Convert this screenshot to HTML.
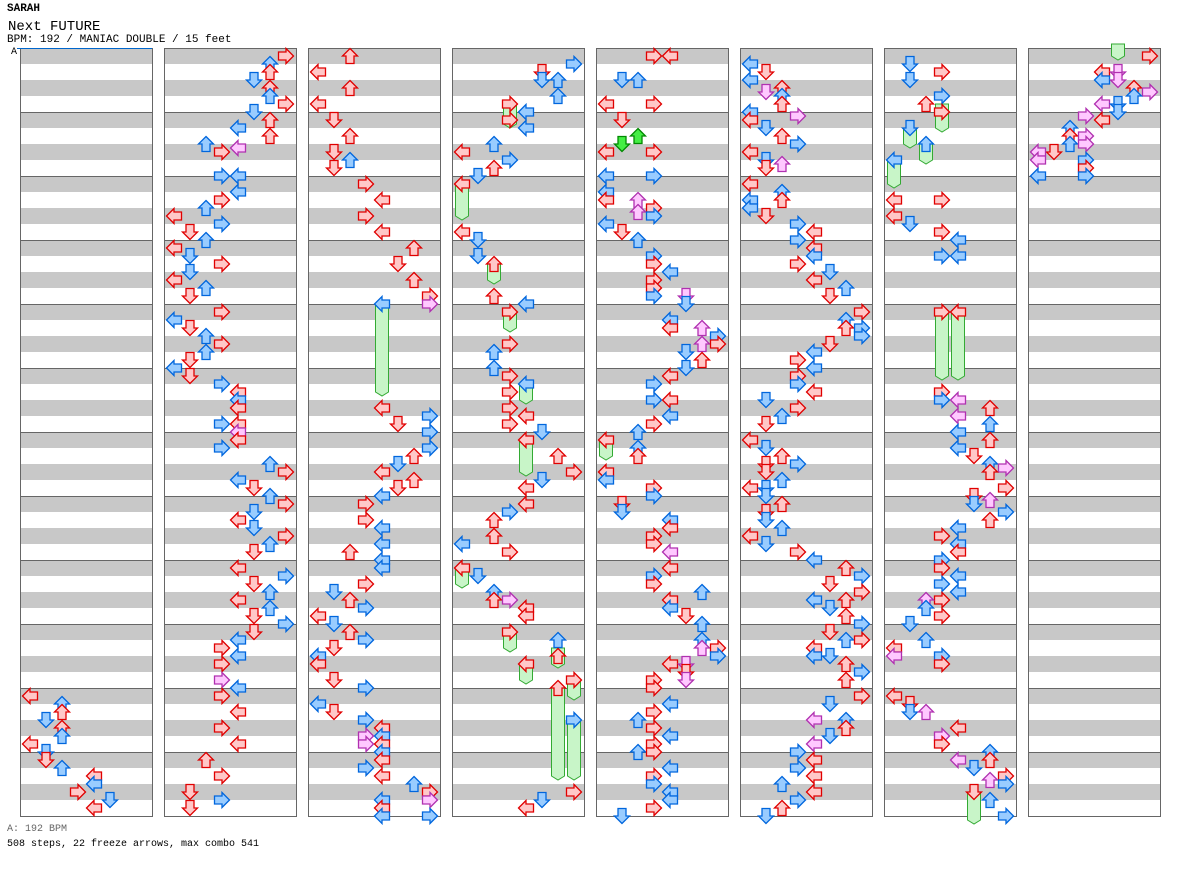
<!DOCTYPE html>
<html><head><meta charset="utf-8"><style>
body{margin:0;background:#fff;width:1184px;height:876px;overflow:hidden;font-family:"Liberation Mono",monospace;}
.t{position:absolute;white-space:nowrap;color:#000}
</style></head><body>
<div class="t" style="left:7px;top:3px;font-size:11px;font-weight:bold">SARAH</div>
<div class="t" style="left:8px;top:19px;font-size:14px">Next FUTURE</div>
<div class="t" style="left:7px;top:34px;font-size:11px">BPM: 192 / MANIAC DOUBLE / 15 feet</div>
<div class="t" style="left:11px;top:47px;font-size:10px">A</div>
<div class="t" style="left:7px;top:824px;font-size:10px;color:#666">A: 192 BPM</div>
<div class="t" style="left:7px;top:839px;font-size:10px">508 steps, 22 freeze arrows, max combo 541</div>
<svg id="s" width="1184" height="876" style="position:absolute;left:0;top:0"></svg>
<script>
var s=document.getElementById('s'),h='';
var cols=[20,164,308,452,596,740,884,1028];
cols.forEach(function(x){
 for(var m=0;m<12;m++){var y=48+m*64;
  h+='<rect x="'+x+'" y="'+y+'" width="132" height="16" fill="#c8c8c8"/><rect x="'+x+'" y="'+(y+32)+'" width="132" height="16" fill="#c8c8c8"/>';
  if(m>0)h+='<line x1="'+x+'" x2="'+(x+132)+'" y1="'+(y+.5)+'" y2="'+(y+.5)+'" stroke="#666"/>';}
 h+='<rect x="'+(x+.5)+'" y="48.5" width="132" height="768" fill="none" stroke="#666"/>';
});
h+='<line x1="17" x2="152" y1="48.5" y2="48.5" stroke="#06c"/>';
var F=[[2,4,304,396],[3,3,104,128],[3,0,184,220],[3,2,264,284],[3,3,312,332],[3,4,384,404],[3,4,440,476],[3,0,568,588],[3,3,632,652],[3,6,648,668],[3,4,664,684],[3,7,680,700],[3,6,688,780],[3,7,720,780],[4,0,440,460],[6,3,104,132],[6,1,128,148],[6,2,144,164],[6,0,160,188],[6,3,312,380],[6,4,312,380],[6,5,792,824],[7,5,44,60]];
F.forEach(function(f){var cx=cols[f[0]]+10+16*f[1];
 h+='<path d="M'+(cx-6.5)+','+f[2]+'V'+(f[3]-4)+'L'+cx+','+f[3]+'L'+(cx+6.5)+','+(f[3]-4)+'V'+f[2]+'Z" fill="#c8f5c8" stroke="#3a3"/>';});
var D=[
"0,696,r;2,704,b;2,712,r;1,720,b;2,728,r;2,736,b;0,744,r;1,752,b;1,760,r;2,768,b;4,776,r;4,784,b;3,792,r;5,800,b;4,808,r",
"7,56,r;6,64,b;6,72,r;5,80,b;6,88,r;6,96,b;7,104,r;5,112,b;6,120,r;4,128,b;6,136,r;2,144,b;4,148,p;3,152,r;3,176,b;4,176,b;4,192,b;3,200,r;2,208,b;0,216,r;3,224,b;1,232,r;2,240,b;0,248,r;1,256,b;3,264,r;1,272,b;0,280,r;2,288,b;1,296,r;3,312,r;0,320,b;1,328,r;2,336,b;3,344,r;2,352,b;1,360,r;0,368,b;1,376,r;3,384,b;4,392,r;4,400,b;4,408,r;3,424,b;4,424,r;4,432,p;4,440,r;3,448,b;6,464,b;7,472,r;4,480,b;5,488,r;6,496,b;7,504,r;5,512,b;4,520,r;5,528,b;7,536,r;6,544,b;5,552,r;4,568,r;7,576,b;5,584,r;6,592,b;4,600,r;6,608,b;5,616,r;7,624,b;5,632,r;4,640,b;3,648,r;4,656,b;3,664,r;3,680,p;4,688,b;3,696,r;4,712,r;3,728,r;4,744,r;2,760,r;3,776,r;1,792,r;3,800,b;1,808,r",
"2,56,r;0,72,r;2,88,r;0,104,r;1,120,r;2,136,r;1,152,r;2,160,b;1,168,r;3,184,r;4,200,r;3,216,r;4,232,r;6,248,r;5,264,r;6,280,r;7,296,r;7,304,p;4,304,b;4,408,r;7,416,b;5,424,r;7,432,b;7,448,b;6,456,r;5,464,b;4,472,r;6,480,r;5,488,r;4,496,b;3,504,r;3,520,r;4,528,b;4,544,b;2,552,r;4,560,b;4,568,b;3,584,r;1,592,b;2,600,r;3,608,b;0,616,r;1,624,b;2,632,r;3,640,b;1,648,r;0,656,b;0,664,r;1,680,r;3,688,b;0,704,b;1,712,r;3,720,b;4,728,r;3,736,p;4,736,b;3,744,p;4,744,r;4,752,b;4,760,r;3,768,b;4,776,r;6,784,b;7,792,r;4,800,b;7,800,p;4,808,r;4,816,b;7,816,b",
"7,64,b;5,72,r;5,80,b;6,80,b;6,96,b;3,104,r;4,112,b;3,120,r;4,128,b;2,144,b;0,152,r;3,160,b;2,168,r;1,176,b;0,184,r;0,232,r;1,240,b;1,256,b;2,264,r;2,296,r;4,304,b;3,312,r;3,344,r;2,352,b;2,368,b;3,376,r;4,384,b;3,392,r;3,408,r;4,416,r;3,424,r;5,432,b;4,440,r;6,456,r;7,472,r;5,480,b;4,488,r;4,504,r;3,512,b;2,520,r;2,536,r;0,544,b;3,552,r;0,568,r;1,576,b;2,592,b;2,600,r;3,600,p;4,608,r;4,616,r;3,632,r;6,640,b;6,656,r;4,664,r;7,680,r;6,688,r;7,720,b;7,792,r;5,800,b;4,808,r",
"3,56,r;4,56,r;1,80,b;2,80,b;0,104,r;3,104,r;1,120,r;2,136,g;1,144,g;0,152,r;3,152,r;0,176,b;3,176,b;0,192,b;0,200,r;2,200,p;3,208,r;2,212,p;3,216,b;0,224,b;1,232,r;2,240,b;3,256,b;3,264,r;4,272,b;3,280,r;3,288,r;3,296,b;5,296,p;5,304,b;4,320,b;4,328,r;6,328,p;7,336,b;6,344,p;7,344,r;5,352,b;6,360,r;5,368,b;4,376,r;3,384,b;3,400,b;4,400,r;4,416,b;3,424,r;2,432,b;0,440,r;2,448,b;2,456,r;0,472,r;0,480,b;3,488,r;3,496,b;1,504,r;1,512,b;4,520,b;4,528,r;3,536,r;3,544,r;4,552,p;4,568,r;3,576,b;3,584,r;6,592,b;4,600,r;4,608,b;5,616,r;6,624,b;6,640,b;6,648,p;7,648,r;7,656,b;4,664,r;5,664,p;5,672,r;3,680,r;5,680,p;3,688,r;4,704,b;3,712,r;2,720,b;3,728,r;4,736,b;3,744,r;2,752,b;3,752,r;4,768,b;3,776,r;3,784,b;4,792,b;4,800,b;3,808,r;1,816,b",
"0,64,b;1,72,r;0,80,b;2,88,r;1,92,p;2,96,b;2,104,r;0,112,b;3,116,p;0,120,r;1,128,b;2,136,r;3,144,b;0,152,r;1,160,b;2,164,p;1,168,r;0,184,r;2,192,b;2,200,r;0,200,b;0,208,b;1,216,r;3,224,b;4,232,r;3,240,b;4,248,r;4,256,b;3,264,r;5,272,b;4,280,r;6,288,b;5,296,r;7,312,r;6,320,b;6,328,r;7,328,b;7,336,b;5,344,r;4,352,b;3,360,r;4,368,b;3,376,r;3,384,b;4,392,r;1,400,b;3,408,r;2,416,b;1,424,r;0,440,r;1,448,b;2,456,r;1,464,r;3,464,b;1,472,r;2,480,b;0,488,r;1,488,b;1,496,b;2,504,r;1,512,r;1,520,b;2,528,b;0,536,r;1,544,b;3,552,r;4,560,b;6,568,r;7,576,b;5,584,r;7,592,r;4,600,b;6,600,r;5,608,b;6,616,r;7,624,b;5,632,r;6,640,b;7,640,r;4,648,r;5,656,b;4,656,b;6,664,r;7,672,b;6,680,r;7,696,r;5,704,b;4,720,p;6,720,b;6,728,r;5,736,b;4,744,p;3,752,b;4,760,r;3,768,b;4,776,r;2,784,b;4,792,r;3,800,b;2,808,r;1,816,b",
"1,64,b;3,72,r;1,80,b;3,96,b;2,104,r;3,112,r;1,128,b;2,144,b;0,160,b;0,200,r;3,200,r;0,216,r;1,224,b;3,232,r;4,240,b;3,256,b;4,256,b;3,312,r;4,312,r;3,392,r;3,400,b;4,400,p;6,408,r;4,416,p;6,424,b;4,432,b;6,440,r;4,448,b;5,456,r;6,464,b;7,468,p;6,472,r;7,488,r;5,496,r;6,500,p;5,504,b;7,512,b;6,520,r;4,528,b;3,536,r;4,544,b;4,552,r;3,560,b;3,568,r;4,576,b;3,584,b;4,592,b;3,600,r;2,600,p;2,608,b;3,616,r;1,624,b;2,640,b;0,648,r;3,656,b;0,656,p;3,664,r;0,696,r;1,704,r;1,712,b;2,712,p;4,728,r;3,736,p;3,744,r;6,752,b;6,760,r;4,760,p;5,768,b;7,776,r;6,780,p;7,784,b;5,792,r;6,800,b;7,816,b",
"7,56,r;4,72,r;5,72,p;4,80,b;5,80,p;6,88,r;7,92,p;6,96,b;4,104,p;5,104,b;5,112,b;3,116,p;4,120,r;2,128,b;2,136,r;3,136,p;2,144,b;3,144,p;1,152,r;0,152,p;3,160,b;0,160,p;3,168,r;0,176,b;3,176,b"
];
var C={r:['#ffc8c8','#e00000'],b:['#99ccff','#0066dd'],p:['#ffc8ff','#b030b0'],g:['#44ee44','#008800']};
var R=[0,270,90,180];
D.forEach(function(str,ci){str.split(';').forEach(function(e){var a=e.split(','),l=+a[0],y=+a[1],c=C[a[2]];
 var cx=cols[ci]+10+16*l;
 h+='<polygon transform="translate('+cx+','+y+') rotate('+R[l%4]+')" points="-7.5,0 0,-7.5 0,-4 7.5,-4 7.5,4 0,4 0,7.5" fill="'+c[0]+'" stroke="'+c[1]+'" stroke-width="1.3" stroke-linejoin="miter"/>';});});
s.innerHTML=h;
</script>
</body></html>
